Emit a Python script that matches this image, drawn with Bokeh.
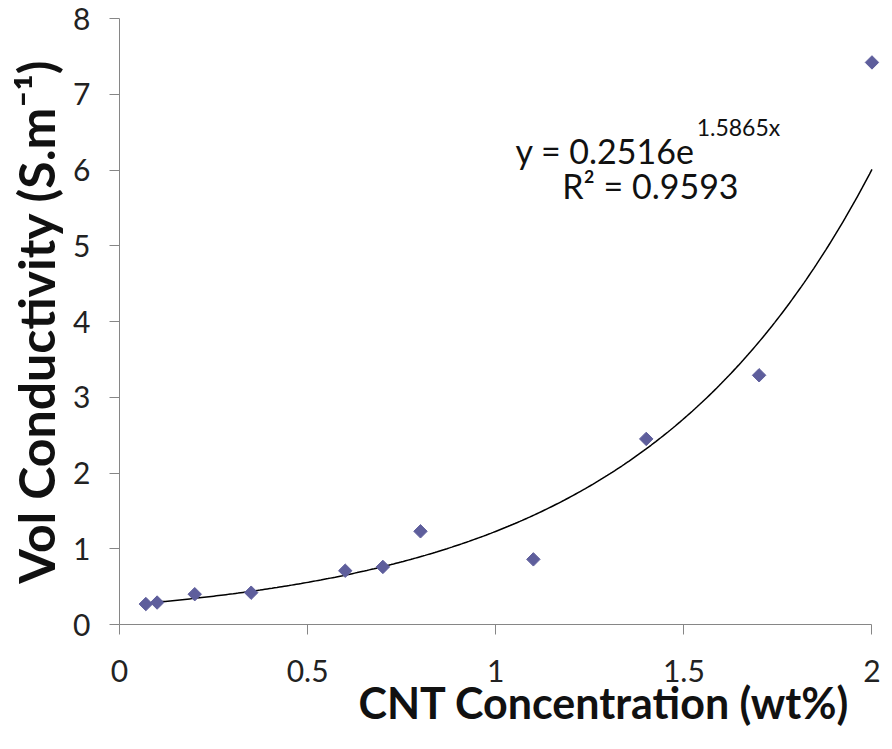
import numpy as np
from bokeh.plotting import figure
from bokeh.models import Range1d, FixedTicker, Label, Title
from bokeh.embed import file_html
from bokeh.resources import INLINE

# ---- data ----
cnt_wt = [0.07, 0.10, 0.20, 0.35, 0.60, 0.70, 0.80, 1.10, 1.40, 1.70, 2.00]
vol_cond = [0.27, 0.29, 0.40, 0.42, 0.71, 0.76, 1.23, 0.86, 2.45, 3.29, 7.42]

# exponential trendline as printed on the chart: y = A * exp(B x)
fit_a = 0.2516
fit_b = 1.5865
r_squared = "0.9593"

x_ticks = [0, 0.5, 1, 1.5, 2]
x_tick_labels = ["0", "0.5", "1", "1.5", "2"]
y_ticks = [0, 1, 2, 3, 4, 5, 6, 7, 8]

x_title = "CNT Concentration (wt%)"
y_title = "Vol Conductivity (S.m\u207b\u00b9)"

FONT = "Lato"
AXIS_GRAY = "#868686"
MARKER = "#5E5E9C"
TEXT = "#111111"

p = figure(width=884, height=733, output_backend="svg", toolbar_location=None,
           x_range=Range1d(0, 2.02), y_range=Range1d(0, 8),
           min_border_left=119, min_border_right=5, min_border_top=18, min_border_bottom=109)
p.outline_line_color = None
p.background_fill_color = "white"
p.border_fill_color = "white"
p.xgrid.visible = False
p.ygrid.visible = False

# axes
p.xaxis.ticker = FixedTicker(ticks=x_ticks)
p.xaxis.major_label_overrides = {t: l for t, l in zip(x_ticks, x_tick_labels)}
p.xaxis.bounds = (0, 2)
p.yaxis.ticker = FixedTicker(ticks=y_ticks)
p.yaxis.major_label_overrides = {t: str(t) for t in y_ticks}
for ax in (p.xaxis, p.yaxis):
    ax.axis_line_color = AXIS_GRAY
    ax.axis_line_width = 1
    ax.major_tick_line_color = AXIS_GRAY
    ax.major_tick_out = 10
    ax.major_tick_in = 0
    ax.minor_tick_line_color = None
    ax.major_label_text_font = FONT
    ax.major_label_text_font_size = "30px"
    ax.major_label_text_color = "#222222"
p.xaxis.major_label_standoff = 25
p.yaxis.major_label_standoff = 19

# y axis title
p.yaxis.axis_label = y_title
p.yaxis.axis_label_text_font = FONT
p.yaxis.axis_label_text_font_size = "50px"
p.yaxis.axis_label_text_font_style = "bold"
p.yaxis.axis_label_text_color = TEXT
p.yaxis.axis_label_standoff = 4

# x axis title (placed below, right aligned)
p.add_layout(Title(text=x_title, align="right", offset=30, standoff=-20,
                   text_font=FONT, text_font_size="43px", text_font_style="bold",
                   text_color=TEXT), "below")

# trendline
x_fit = np.linspace(min(cnt_wt), max(cnt_wt), 300)
y_fit = fit_a * np.exp(fit_b * x_fit)
p.line(x_fit, y_fit, line_color="black", line_width=1.5)

# data points (diamonds)
p.scatter(cnt_wt, vol_cond, marker="square", angle=np.pi / 4, size=9.5,
          fill_color=MARKER, line_color=MARKER)

# equation annotation
p.add_layout(Label(x=1.529, y=6.26, text=f"y = {fit_a}e", text_font=FONT,
                   text_font_size="34px", text_align="right", text_baseline="middle",
                   text_color=TEXT))
p.add_layout(Label(x=1.534, y=6.57, text=f"{fit_b}x", text_font=FONT,
                   text_font_size="23px", text_align="left", text_baseline="middle",
                   text_color=TEXT))
p.add_layout(Label(x=1.411, y=5.80, text=f"R\u00b2 = {r_squared}", text_font=FONT,
                   text_font_size="34px", text_align="center", text_baseline="middle",
                   text_color=TEXT))

open("out.html", "w").write(file_html(p, INLINE))
